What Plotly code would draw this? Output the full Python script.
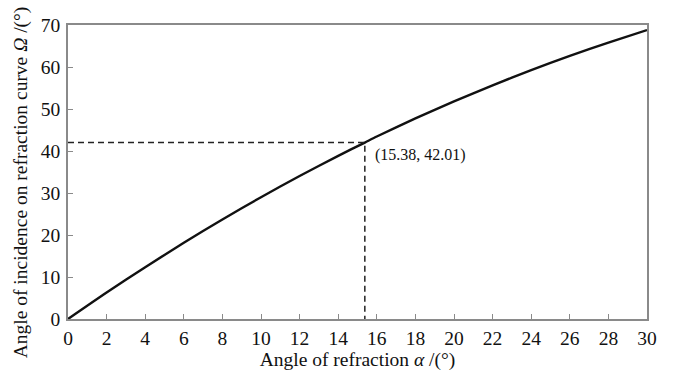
import plotly.graph_objects as go

# Refraction curve: incidence angle on the curve vs. angle of refraction (degrees)
alpha = [0, 2, 4, 6, 8, 10, 12, 14, 15.38, 16, 18, 20, 22, 24, 26, 28, 30]
omega = [0, 6.3, 12.35, 18.15, 23.7, 29.0, 34.05, 38.85, 42.01, 43.45,
         47.75, 51.8, 55.65, 59.25, 62.65, 65.8, 68.8]

# Marked point
mark_alpha = 15.38
mark_omega = 42.01
mark_label = "(15.38, 42.01)"

x_ticks = list(range(0, 31, 2))
y_ticks = list(range(0, 71, 10))

x_title = "Angle of refraction <i>α</i> /(°)"
y_title = "Angle of incidence on refraction curve <i>Ω</i> /(°)"

FONT = "Liberation Serif"
AXIS_GRAY = "#8a8a8a"
TEXT = "#111111"

fig = go.Figure()

fig.add_trace(go.Scatter(
    x=alpha, y=omega, mode="lines",
    line=dict(color="#111111", width=2.4, shape="spline", smoothing=0.6),
    hoverinfo="skip", showlegend=False,
))

# Dashed guide lines to the marked point
fig.add_trace(go.Scatter(
    x=[0, mark_alpha, mark_alpha], y=[mark_omega, mark_omega, 0],
    mode="lines", line=dict(color="#222222", width=1.5, dash="6px,4px"),
    hoverinfo="skip", showlegend=False,
))

fig.add_annotation(
    x=mark_alpha, y=mark_omega, text=mark_label, showarrow=False,
    xanchor="left", yanchor="top", xshift=8, yshift=-1,
    font=dict(family=FONT, size=16, color=TEXT),
)

# Vertical axis title, placed as a rotated annotation
fig.add_annotation(
    xref="paper", yref="paper", x=0, y=0.465, xshift=-47,
    text=y_title, textangle=-90, showarrow=False,
    xanchor="center", yanchor="middle",
    font=dict(family=FONT, size=19.5, color=TEXT),
)

axis_common = dict(
    showgrid=False, zeroline=False, showline=True, mirror=True,
    linecolor=AXIS_GRAY, linewidth=1.5,
    ticks="inside", ticklen=5, tickwidth=1.2, tickcolor=AXIS_GRAY,
    tickfont=dict(family=FONT, size=19.5, color=TEXT),
)

fig.update_xaxes(
    range=[0, 30], tickvals=x_ticks, ticktext=[str(v) for v in x_ticks],
    ticklabelstandoff=1,
    title=dict(text=x_title, standoff=0,
               font=dict(family=FONT, size=19.5, color=TEXT)),
    **axis_common,
)
fig.update_yaxes(
    range=[0, 70], tickvals=y_ticks, ticktext=[str(v) for v in y_ticks],
    ticklabelstandoff=2,
    **axis_common,
)

fig.update_layout(
    width=674, height=375,
    margin=dict(l=68, r=27, t=25, b=52),
    paper_bgcolor="white", plot_bgcolor="white",
)

fig.write_html("out.html")
